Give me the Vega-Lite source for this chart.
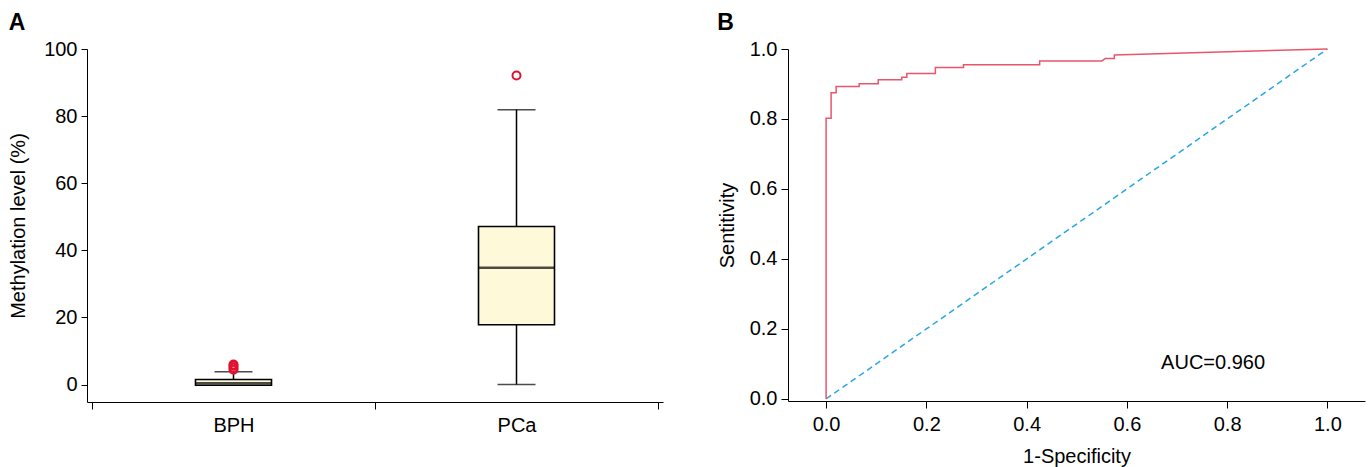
{
  "$schema": "https://vega.github.io/schema/vega-lite/v6.json",
  "padding": {"left": 8, "top": 12, "right": 5, "bottom": 5},
  "background": "white",
  "config": {
    "font": "Liberation Sans",
    "view": {"stroke": null},
    "axis": {"grid": false, "domainColor": "black", "tickColor": "black", "labelColor": "black", "titleColor": "black", "labelFontSize": 20, "titleFontSize": 20, "titleFontWeight": "normal", "domainWidth": 1, "tickWidth": 1, "tickSize": 7, "labelPadding": 4},
    "title": {"fontSize": 23, "fontWeight": "bold", "anchor": "start", "frame": "bounds", "color": "black"}
  },
  "datasets": {
    "boxes": [
      {"group": "BPH", "pos": 1, "lower": 0, "q1": -0.2, "median": 0.4, "q3": 1.5, "upper": 3.8},
      {"group": "PCa", "pos": 2, "lower": 0, "q1": 17.8, "median": 34.8, "q3": 47.1, "upper": 81.9}
    ],
    "outliers": [
      {"pos": 1, "value": 4.4},
      {"pos": 1, "value": 5.0},
      {"pos": 1, "value": 5.6},
      {"pos": 1, "value": 6.0},
      {"pos": 2, "value": 92.1}
    ],
    "roc": [
      {"fpr": 0.0, "tpr": 0.0},
      {"fpr": 0.0, "tpr": 0.802},
      {"fpr": 0.01, "tpr": 0.802},
      {"fpr": 0.01, "tpr": 0.875},
      {"fpr": 0.02, "tpr": 0.875},
      {"fpr": 0.02, "tpr": 0.893},
      {"fpr": 0.066, "tpr": 0.893},
      {"fpr": 0.066, "tpr": 0.901},
      {"fpr": 0.104, "tpr": 0.901},
      {"fpr": 0.104, "tpr": 0.912},
      {"fpr": 0.151, "tpr": 0.912},
      {"fpr": 0.151, "tpr": 0.919},
      {"fpr": 0.161, "tpr": 0.919},
      {"fpr": 0.161, "tpr": 0.93},
      {"fpr": 0.218, "tpr": 0.93},
      {"fpr": 0.218, "tpr": 0.947},
      {"fpr": 0.274, "tpr": 0.947},
      {"fpr": 0.274, "tpr": 0.955},
      {"fpr": 0.426, "tpr": 0.955},
      {"fpr": 0.426, "tpr": 0.966},
      {"fpr": 0.55, "tpr": 0.966},
      {"fpr": 0.557, "tpr": 0.973},
      {"fpr": 0.575, "tpr": 0.973},
      {"fpr": 0.575, "tpr": 0.983},
      {"fpr": 1.0, "tpr": 1.0}
    ],
    "diag": [
      {"fpr": 0, "tpr": 0},
      {"fpr": 1, "tpr": 1}
    ],
    "auc": [
      {"fpr": 0.772, "tpr": 0.103, "label": "AUC=0.960"}
    ]
  },
  "hconcat": [
    {
      "title": {"text": "A"},
      "width": 576,
      "height": 353,
      "layer": [
        {
          "data": {"name": "boxes"},
          "mark": {"type": "rule", "color": "black", "strokeWidth": 1.5},
          "encoding": {
            "x": {"field": "pos", "type": "quantitative", "scale": {"domain": [0.5, 2.5], "nice": false, "zero": false},
              "axis": {"title": null, "values": [0.5, 1, 1.5, 2, 2.5], "labelExpr": "datum.value == 1 ? 'BPH' : (datum.value == 2 ? 'PCa' : '')", "tickOpacity": {"condition": {"test": "datum.value == 1 || datum.value == 2", "value": 0}, "value": 1}, "labelPadding": 6, "labelFontSize": 20}},
            "y": {"field": "lower", "type": "quantitative", "scale": {"domain": [-5.2, 100], "nice": false, "zero": false},
              "axis": {"title": "Methylation level (%)", "values": [0, 20, 40, 60, 80, 100], "tickSize": 6, "titlePadding": 15}},
            "y2": {"field": "upper"}
          }
        },
        {
          "data": {"name": "boxes"},
          "mark": {"type": "tick", "orient": "horizontal", "color": "black", "size": 38, "thickness": 1.5},
          "encoding": {
            "x": {"field": "pos", "type": "quantitative"},
            "y": {"field": "lower", "type": "quantitative"}
          }
        },
        {
          "data": {"name": "boxes"},
          "mark": {"type": "tick", "orient": "horizontal", "color": "black", "size": 38, "thickness": 1.5},
          "encoding": {
            "x": {"field": "pos", "type": "quantitative"},
            "y": {"field": "upper", "type": "quantitative"}
          }
        },
        {
          "data": {"name": "boxes"},
          "mark": {"type": "bar", "size": 76, "fill": "#fdf9d9", "stroke": "black", "strokeWidth": 1.6, "orient": "vertical"},
          "encoding": {
            "x": {"field": "pos", "type": "quantitative"},
            "y": {"field": "q1", "type": "quantitative"},
            "y2": {"field": "q3"}
          }
        },
        {
          "data": {"name": "boxes"},
          "mark": {"type": "tick", "orient": "horizontal", "color": "black", "size": 76, "thickness": 2.5},
          "encoding": {
            "x": {"field": "pos", "type": "quantitative"},
            "y": {"field": "median", "type": "quantitative"}
          }
        },
        {
          "data": {"name": "outliers"},
          "mark": {"type": "point", "shape": "circle", "filled": false, "color": "#e0102f", "size": 64, "strokeWidth": 2, "opacity": 1},
          "encoding": {
            "x": {"field": "pos", "type": "quantitative"},
            "y": {"field": "value", "type": "quantitative"}
          }
        }
      ]
    },
    {
      "title": {"text": "B"},
      "width": 577,
      "height": 352,
      "layer": [
        {
          "data": {"name": "diag"},
          "mark": {"type": "line", "color": "#27a6e2", "strokeWidth": 1.5, "strokeDash": [6, 4]},
          "encoding": {
            "x": {"field": "fpr", "type": "quantitative", "scale": {"domain": [-0.076, 1.075], "nice": false, "zero": false},
              "axis": {"title": "1-Specificity", "values": [0, 0.2, 0.4, 0.6, 0.8, 1.0], "format": ".1f", "labelPadding": 6, "titlePadding": 12}},
            "y": {"field": "tpr", "type": "quantitative", "scale": {"domain": [-0.006, 1], "nice": false, "zero": false},
              "axis": {"title": "Sentitivity", "values": [0, 0.2, 0.4, 0.6, 0.8, 1.0], "format": ".1f", "titlePadding": 12}}
          }
        },
        {
          "data": {"name": "roc"},
          "mark": {"type": "line", "color": "#e8566c", "strokeWidth": 1.5},
          "encoding": {
            "x": {"field": "fpr", "type": "quantitative"},
            "y": {"field": "tpr", "type": "quantitative"},
            "order": {"value": 0}
          }
        },
        {
          "data": {"name": "auc"},
          "mark": {"type": "text", "fontSize": 20, "color": "black", "align": "center", "baseline": "middle"},
          "encoding": {
            "x": {"field": "fpr", "type": "quantitative"},
            "y": {"field": "tpr", "type": "quantitative"},
            "text": {"field": "label"}
          }
        }
      ]
    }
  ],
  "spacing": 54
}
